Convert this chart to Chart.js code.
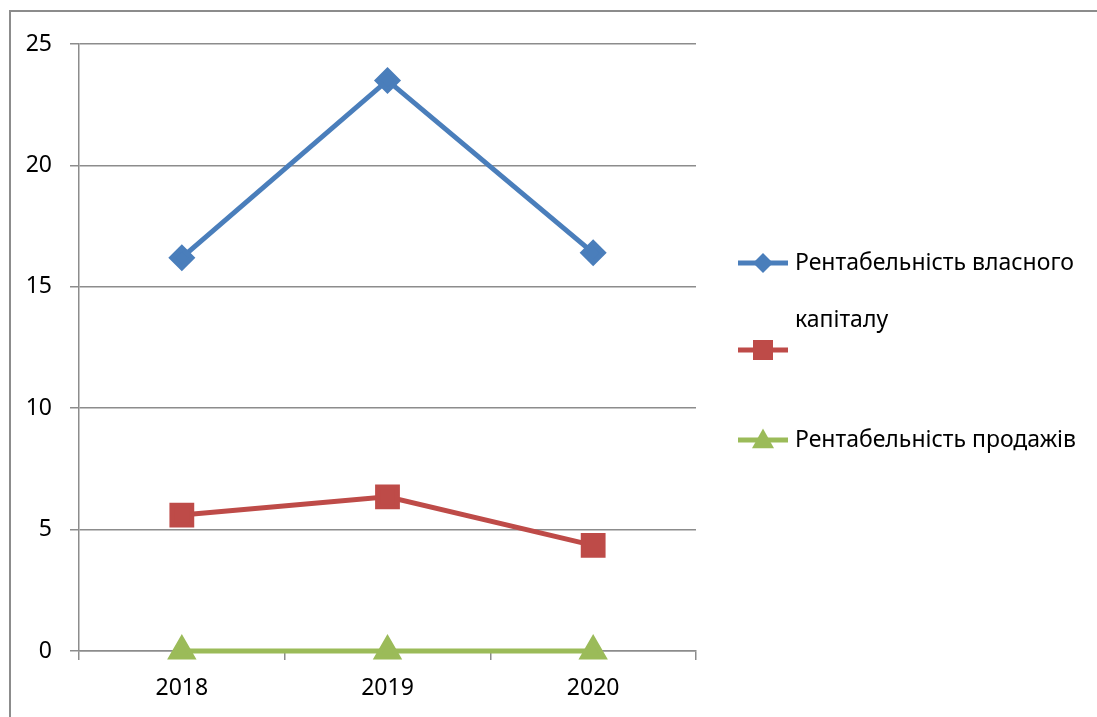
<!DOCTYPE html>
<html>
<head>
<meta charset="utf-8">
<script src="https://cdn.jsdelivr.net/npm/chart.js@4"></script>
<style>
  html, body { margin: 0; padding: 0; background: #fff; }
  #wrap { width: 1097px; height: 717px; position: relative; }
</style>
</head>
<body>
<div id="wrap"><canvas id="c" width="1097" height="717"></canvas></div>
<script>
const categories = ['2018', '2019', '2020'];
const equityReturn = [16.2, 23.5, 16.4];
const secondSeries = [5.6, 6.35, 4.35];
const salesReturn = [0, 0, 0];
const seriesNames = ['Рентабельність власного капіталу', '', 'Рентабельність продажів'];
const yMin = 0, yMax = 25, yStep = 5;

const FONT = '"Noto Sans", "DejaVu Sans", sans-serif';
const FONT_SIZE = 23;
const GRID = '#8c8c8c';

const framePlugin = {
  id: 'frame',
  beforeDraw(chart) {
    const ctx = chart.ctx;
    ctx.save();
    ctx.fillStyle = '#fff';
    ctx.fillRect(0, 0, chart.width, chart.height);
    ctx.strokeStyle = GRID;
    ctx.lineWidth = 2;
    ctx.beginPath();
    ctx.moveTo(10, chart.height);
    ctx.lineTo(10, 11);
    ctx.lineTo(chart.width, 11);
    ctx.stroke();
    ctx.restore();
  }
};

function drawMarker(ctx, style, x, y, r) {
  if (style === 'rectRot') {
    ctx.moveTo(x, y - r); ctx.lineTo(x + r, y); ctx.lineTo(x, y + r); ctx.lineTo(x - r, y); ctx.closePath();
  } else if (style === 'rect') {
    ctx.rect(x - r, y - r, 2 * r, 2 * r);
  } else if (style === 'triangle') {
    ctx.moveTo(x, y - r * 1.05); ctx.lineTo(x + r, y + r * 0.75); ctx.lineTo(x - r, y + r * 0.75); ctx.closePath();
  }
}

const legendPlugin = {
  id: 'customLegend',
  afterDraw(chart) {
    const ctx = chart.ctx;
    const rows = [263, 350, 440];
    const textX = 795, lineX0 = 738, lineX1 = 788;
    ctx.save();
    ctx.font = FONT_SIZE + 'px ' + FONT;
    ctx.textBaseline = 'middle';
    chart.data.datasets.forEach((ds, i) => {
      const y = rows[i];
      ctx.strokeStyle = ds.borderColor;
      ctx.lineWidth = 5;
      ctx.beginPath();
      ctx.moveTo(lineX0, y);
      ctx.lineTo(lineX1, y);
      ctx.stroke();
      ctx.fillStyle = ds.pointBackgroundColor;
      ctx.beginPath();
      drawMarker(ctx, ds.pointStyle, (lineX0 + lineX1) / 2, y, ds.legendRadius);
      ctx.fill();
      ctx.fillStyle = '#000';
      const words = ds.label.split(' ').filter(w => w);
      const lines = [];
      let cur = '';
      words.forEach(w => {
        const t = cur ? cur + ' ' + w : w;
        if (ctx.measureText(t).width > 295 && cur) { lines.push(cur); cur = w; }
        else cur = t;
      });
      if (cur) lines.push(cur);
      lines.forEach((l, k) => ctx.fillText(l, textX, y + k * 57));
    });
    ctx.restore();
  }
};

new Chart(document.getElementById('c'), {
  type: 'line',
  data: {
    labels: categories,
    datasets: [
      {
        label: seriesNames[0], data: equityReturn,
        borderColor: '#4A7EBB', backgroundColor: '#4A7EBB',
        pointBackgroundColor: '#4A7EBB', pointBorderColor: '#4A7EBB',
        borderWidth: 5, pointStyle: 'rectRot', pointRadius: 10, pointHoverRadius: 10,
        legendRadius: 10, clip: false
      },
      {
        label: seriesNames[1], data: secondSeries,
        borderColor: '#BE4B48', backgroundColor: '#BE4B48',
        pointBackgroundColor: '#BE4B48', pointBorderColor: '#BE4B48',
        borderWidth: 5, pointStyle: 'rect', pointRadius: 14, pointHoverRadius: 14,
        legendRadius: 10, clip: false
      },
      {
        label: seriesNames[2], data: salesReturn,
        borderColor: '#9BBB59', backgroundColor: '#9BBB59',
        pointBackgroundColor: '#9BBB59', pointBorderColor: '#9BBB59',
        borderWidth: 5, pointStyle: 'triangle', pointRadius: 12, pointHoverRadius: 12,
        legendRadius: 11, clip: false
      }
    ]
  },
  options: {
    responsive: false,
    animation: false,
    events: [],
    layout: { padding: { left: 0, right: 401, top: 44, bottom: 0 } },
    plugins: { legend: { display: false }, tooltip: { enabled: false } },
    elements: { line: { tension: 0 }, point: { borderWidth: 0 } },
    scales: {
      x: {
        offset: true,
        grid: { offset: true, drawOnChartArea: false, drawTicks: true, tickLength: 9, color: GRID, lineWidth: 1.5 },
        border: { display: true, color: GRID, width: 1.5 },
        ticks: { color: '#000', font: { family: FONT, size: FONT_SIZE }, padding: 15, maxRotation: 0 },
        afterFit(scale) { scale.height = 66; }
      },
      y: {
        min: yMin, max: yMax,
        grid: { color: GRID, lineWidth: 1.5, tickLength: 9 },
        border: { display: true, color: GRID, width: 1.5 },
        ticks: { stepSize: yStep, color: '#000', font: { family: FONT, size: FONT_SIZE }, padding: 18 },
        afterFit(scale) { scale.width = 79; }
      }
    }
  },
  plugins: [framePlugin, legendPlugin]
});
</script>
</body>
</html>
